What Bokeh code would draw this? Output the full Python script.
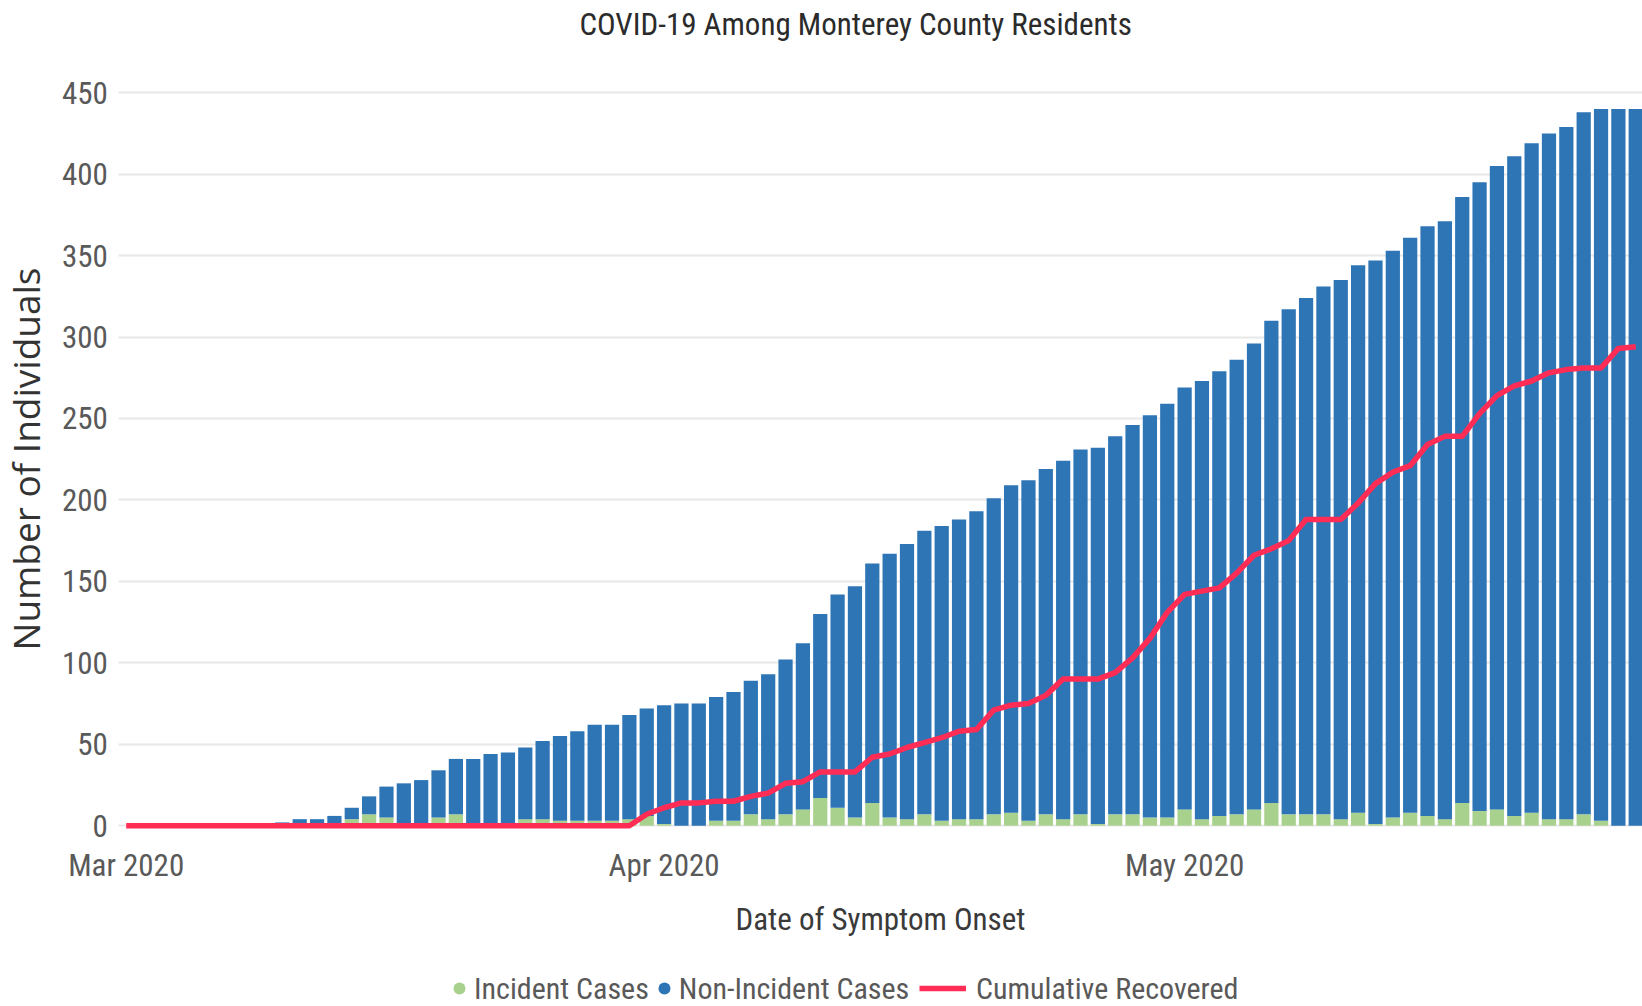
import pandas as pd
from bokeh.plotting import figure
from bokeh.models import Range1d, FixedTicker, Legend, LegendItem, ColumnDataSource, Title
from bokeh.embed import file_html
from bokeh.resources import INLINE

# ---- data ----
dates = pd.date_range("2020-03-01", "2020-05-27")
incident = [0, 0, 0, 0, 0, 0, 0, 0, 0, 0,
            0, 0, 0, 4, 7, 5, 0, 0, 5, 7,
            0, 0, 0, 4, 4, 3, 3, 3, 3, 4,
            6, 1, 0, 0, 3, 3, 7, 4, 7, 10,
            17, 11, 5, 14, 5, 4, 7, 3, 4, 4,
            7, 8, 3, 7, 4, 7, 1, 7, 7, 5,
            5, 10, 4, 6, 7, 10, 14, 7, 7, 7,
            4, 8, 1, 5, 8, 6, 4, 14, 9, 10,
            6, 8, 4, 4, 7, 3, 0, 0]
non_incident = [0, 0, 0, 0, 0, 0, 0, 0, 0, 2,
                4, 4, 6, 7, 11, 19, 26, 28, 29, 34,
                41, 44, 45, 44, 48, 52, 55, 59, 59, 64,
                66, 73, 75, 75, 76, 79, 82, 89, 95, 102,
                113, 131, 142, 147, 162, 169, 174, 181, 184, 189,
                194, 201, 209, 212, 220, 224, 231, 232, 239, 247,
                254, 259, 269, 273, 279, 286, 296, 310, 317, 324,
                331, 336, 346, 348, 353, 362, 367, 372, 386, 395,
                405, 411, 421, 425, 431, 437, 440, 440]
recovered = [0, 0, 0, 0, 0, 0, 0, 0, 0, 0,
             0, 0, 0, 0, 0, 0, 0, 0, 0, 0,
             0, 0, 0, 0, 0, 0, 0, 0, 0, 0,
             7, 11, 14, 14, 15, 15, 18, 20, 26, 27,
             33, 33, 33, 42, 44, 48, 51, 54, 58, 59,
             71, 74, 75, 80, 90, 90, 90, 94, 103, 115,
             131, 142, 144, 146, 155, 166, 170, 175, 188, 188,
             188, 198, 210, 217, 221, 234, 239, 239, 253, 264,
             270, 273, 278, 280, 281, 281, 293, 294]
tick_days = [0, 31, 61]
tick_labels = ["Mar 2020", "Apr 2020", "May 2020"]
y_ticks = [0, 50, 100, 150, 200, 250, 300, 350, 400, 450]
series_names = ["Incident Cases", "Non-Incident Cases", "Cumulative Recovered"]

# ---- style / layout ----
GREEN = "#A9D18E"
BLUE = "#2E75B6"
RED = "#FF2D55"
COND = "Roboto Condensed"
X_START, X_AXIS, X_END = -4.594, -0.4265, 87.39     # visible day range, y-axis position
Y_START, Y_END = -111.0, 480.8

day = [(d - dates[0]).days for d in dates]
src = ColumnDataSource(dict(day=day, incident=incident, non_incident=non_incident,
                            recovered=recovered))

p = figure(width=1642, height=1006, output_backend="svg", toolbar_location=None,
           x_range=Range1d(X_START, X_END), y_range=Range1d(Y_START, Y_END),
           min_border_left=46, min_border_right=0, min_border_top=42,
           min_border_bottom=0)
p.outline_line_color = None

# grid lines only over the plotting area
p.xgrid.grid_line_color = None
try:
    p.ygrid.cross_bounds = (X_AXIS, X_END)
    p.ygrid.grid_line_color = "#E8E8E8"
    p.ygrid.grid_line_width = 2
except Exception:
    p.ygrid.grid_line_color = None
    p.segment(x0=X_AXIS, x1=X_END, y0=y_ticks, y1=y_ticks, line_color="#E8E8E8",
              line_width=2)

p.vbar_stack(["incident", "non_incident"], x="day", width=0.82,
             fill_color=[GREEN, BLUE], line_color=None, source=src)
red_line = p.line("day", "recovered", source=src, line_color=RED, line_width=5.5,
                  line_join="round")

# title
p.title.text = "COVID-19 Among Monterey County Residents"
p.title.align = "left"
p.title.offset = 533
p.title.text_font = COND
p.title.text_font_size = "31px"
p.title.text_font_style = "normal"
p.title.text_color = "#2B2B2B"
p.title.standoff = 0

# axes (placed inside the frame)
p.xaxis.fixed_location = 0
p.xaxis.bounds = (X_AXIS, X_END + 0.06)
p.xaxis.ticker = FixedTicker(ticks=tick_days)
p.xaxis.major_label_overrides = {d: l for d, l in zip(tick_days, tick_labels)}
p.yaxis.fixed_location = X_AXIS
p.yaxis.ticker = FixedTicker(ticks=y_ticks)
for ax in (p.xaxis, p.yaxis):
    ax.axis_line_color = None
    ax.major_tick_line_color = None
    ax.minor_tick_line_color = None
    ax.major_label_text_font = COND
    ax.major_label_text_font_size = "31px"
    ax.major_label_text_color = "#595959"
p.xaxis.major_label_standoff = 15
p.yaxis.major_label_standoff = 5
p.xaxis.axis_label = "Date of Symptom Onset"
p.xaxis.axis_label_text_font = COND
p.xaxis.axis_label_text_font_size = "31px"
p.xaxis.axis_label_text_font_style = "normal"
p.xaxis.axis_label_text_color = "#3A3A3A"
p.xaxis.axis_label_standoff = 14

ytitle = Title(text="Number of Individuals", align="right", offset=225,
               text_font="Open Sans", text_font_size="37px", text_font_style="normal",
               text_color="#333333", standoff=-8)
p.add_layout(ytitle, "left")

# legend
nan = float("nan")
g_dummy = p.scatter(x=[nan], y=[nan], marker="circle", fill_color=GREEN, line_color=None)
b_dummy = p.scatter(x=[nan], y=[nan], marker="circle", fill_color=BLUE, line_color=None)
common = dict(orientation="horizontal", padding=0, margin=0, border_line_color=None,
              background_fill_alpha=0, label_text_font=COND,
              label_text_font_size="30px", label_text_color="#595959")
leg1 = Legend(items=[LegendItem(label=series_names[0], renderers=[g_dummy]),
                     LegendItem(label=series_names[1], renderers=[b_dummy])],
              location=(398, 0), glyph_width=30, glyph_height=36,
              label_standoff=0, spacing=0, **common)
leg2 = Legend(items=[LegendItem(label=series_names[2], renderers=[red_line])],
              location=(873, 0), glyph_width=47, glyph_height=36,
              label_standoff=10, **common)
p.add_layout(leg1)
p.add_layout(leg2)

open("out.html", "w").write(file_html(p, INLINE))
